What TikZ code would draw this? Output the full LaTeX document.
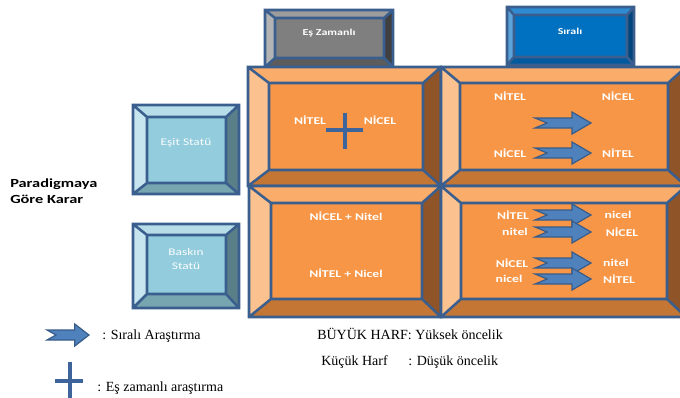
\documentclass[tikz,border=0pt]{standalone}
\usepackage{fontspec}
\setmainfont{Liberation Serif}
\newfontfamily\labfont[FakeStretch=1.32]{Carlito}
\usetikzlibrary{fit}

% palettes: C = face, T/L/R/B = top/left/right/bottom bevels
\definecolor{edge}{HTML}{3A5F8F}
\definecolor{orC}{HTML}{F79646}\definecolor{orT}{HTML}{FAAC6A}\definecolor{orL}{HTML}{FBC18F}
\definecolor{orR}{HTML}{8F5427}\definecolor{orB}{HTML}{C47635}
\definecolor{lbC}{HTML}{93CDDD}\definecolor{lbT}{HTML}{B7DEE8}\definecolor{lbL}{HTML}{C6E5EE}
\definecolor{lbR}{HTML}{5B7F88}\definecolor{lbB}{HTML}{78A6B0}
\definecolor{gyC}{HTML}{7F7F7F}\definecolor{gyT}{HTML}{9C9C9C}\definecolor{gyL}{HTML}{B3B3B3}
\definecolor{gyR}{HTML}{404040}\definecolor{gyB}{HTML}{5C5C5C}
\definecolor{blC}{HTML}{0070C0}\definecolor{blT}{HTML}{2E8AD1}\definecolor{blL}{HTML}{5BA3DB}
\definecolor{blR}{HTML}{00457C}\definecolor{blB}{HTML}{005A9D}
\definecolor{arrfill}{HTML}{4F81BD}\definecolor{arredge}{HTML}{385D8A}
\definecolor{crosscol}{HTML}{3D659C}

\newcommand\usepal[1]{\colorlet{bvT}{#1T}\colorlet{bvL}{#1L}\colorlet{bvR}{#1R}\colorlet{bvB}{#1B}\colorlet{bvC}{#1C}}

% bevelled box: name, outer x1 y1 x2 y2, bevel widths left top right bottom
\newcommand\bevbox[9]{%
  \fill[bvT] (#2,#3) -- (#4,#3) -- (#4-#8,#3+#7) -- (#2+#6,#3+#7) -- cycle;
  \fill[bvL] (#2,#3) -- (#2+#6,#3+#7) -- (#2+#6,#5-#9) -- (#2,#5) -- cycle;
  \fill[bvR] (#4,#3) -- (#4,#5) -- (#4-#8,#5-#9) -- (#4-#8,#3+#7) -- cycle;
  \fill[bvB] (#2,#5) -- (#2+#6,#5-#9) -- (#4-#8,#5-#9) -- (#4,#5) -- cycle;
  \fill[bvC] (#2+#6,#3+#7) rectangle (#4-#8,#5-#9);
  \draw[bevline] (#2,#3) rectangle (#4,#5) (#2+#6,#3+#7) rectangle (#4-#8,#5-#9)
    (#2,#3) -- (#2+#6,#3+#7) (#4,#3) -- (#4-#8,#3+#7)
    (#4,#5) -- (#4-#8,#5-#9) (#2,#5) -- (#2+#6,#5-#9);
  \node[fit={(#2+#6,#3+#7) (#4-#8,#5-#9)}, inner sep=0pt] (#1) {};
}

\tikzset{
  bevline/.style={draw=edge, line width=1.9pt, line join=miter},
  celltext/.style={font={\labfont\bfseries\fontsize{7.8pt}{9pt}\selectfont}, text=white, inner sep=0pt},
  headtext/.style={font={\labfont\bfseries\fontsize{6.8pt}{8pt}\selectfont}, text=white, inner sep=0pt},
  statustext/.style={font={\labfont\fontsize{7.6pt}{11pt}\selectfont}, text=white!95!lbC, inner sep=0pt, align=center},
  sidetext/.style={font={\labfont\bfseries\fontsize{9.3pt}{12pt}\selectfont}, text=black, inner sep=0pt, align=left},
  legendtext/.style={font={\fontsize{10.5pt}{12pt}\selectfont}, text=black, inner sep=0pt},
  crossline/.style={draw=crosscol, line width=2.5pt},
  pics/seqarrow/.style={code={
    \draw[fill=arrfill, draw=arredge, line width=0.9pt, line join=miter]
      (-28,-5) -- (9,-5) -- (9,-11) -- (28,0) -- (9,11) -- (9,5) -- (-28,5) -- (-16,0) -- cycle;}},
}

\begin{document}
\begin{tikzpicture}[x=0.75pt, y=-0.75pt]
\useasboundingbox (0,0) rectangle (680,397);
\fill[white] (0,0) rectangle (680,397);
\clip (0,0) rectangle (680,397);

% column headers
\usepal{gy}\bevbox{esz}{265}{10}{393}{67}{10}{8}{9}{9}
\usepal{bl}\bevbox{sir}{507}{7}{634}{65}{7}{8}{7}{8}
\node[headtext] (eszt) at (329,33) {Eş Zamanlı};
\node[headtext] (sirt) at (570,31) {Sıralı};

% row headers
\usepal{lb}\bevbox{esit}{133}{105}{239}{194}{14}{12}{13}{11}
\usepal{lb}\bevbox{bask}{133}{224}{239}{308}{14}{11}{13}{14}
\node[statustext] (esitt) at (186,143) {Eşit Statü};
\node[statustext] (baskt) at (186,259) {Baskın\\Statü};

\node[sidetext, anchor=base west] (par1) at (10,187) {Paradigmaya};
\node[sidetext, anchor=base west] (par2) at (10,203) {Göre Karar};

% the four cells
\usepal{or}
\bevbox{tl}{248}{67}{441}{186}{21}{16}{18}{16}
\bevbox{tr}{441}{67}{686}{186}{19}{16}{18}{16}
\bevbox{bl}{249}{186}{441}{317}{22}{17}{19}{18}
\bevbox{br}{441}{186}{686}{317}{20}{17}{19}{18}

% concurrent cell
\node[celltext] (tl1) at (310,120) {NİTEL};
\node[celltext] (tl2) at (380,120) {NİCEL};
\draw[crossline] (345,113) -- (345,149) (326,130) -- (363,130);

% sequential cell
\node[celltext] (tr1) at (510,96) {NİTEL};
\node[celltext] (tr2) at (618,96) {NİCEL};
\node[celltext] (tr3) at (510,153) {NİCEL};
\node[celltext] (tr4) at (618,153) {NİTEL};
\pic at (563,123) {seqarrow};
\pic at (563,153) {seqarrow};

% dominant concurrent cell
\node[celltext] (bl1) at (346,216) {NİCEL + Nitel};
\node[celltext] (bl2) at (346,273) {NİTEL + Nicel};

% dominant sequential cell
\node[celltext] (br1) at (513,215) {NİTEL};
\node[celltext] (br2) at (515,232) {nitel};
\node[celltext] (br3) at (512,263) {NİCEL};
\node[celltext] (br4) at (509,279) {nicel};
\node[celltext] (br5) at (618,215) {nicel};
\node[celltext] (br6) at (622,232) {NİCEL};
\node[celltext] (br7) at (616,263) {nitel};
\node[celltext] (br8) at (619,279) {NİTEL};
\pic at (563,215) {seqarrow};
\pic at (563,232) {seqarrow};
\pic at (563,263) {seqarrow};
\pic at (563,279) {seqarrow};

% legend
\pic[xscale=0.75] at (68,335) {seqarrow};
\node[legendtext, anchor=base west] (lg1) at (102,339) {: Sıralı Araştırma};
\draw[crossline] (70,362) -- (70,400) (55,381) -- (83,381);
\node[legendtext, anchor=base west] (lg2) at (97,391) {: Eş zamanlı araştırma};
\node[legendtext, anchor=base west] (lg3) at (317,339) {BÜYÜK HARF: Yüksek öncelik};
\node[legendtext, anchor=base west] (lg4) at (321,365) {Küçük Harf};
\node[legendtext, anchor=base west] (lg5) at (408,365) {: Düşük öncelik};
\end{tikzpicture}
\end{document}
